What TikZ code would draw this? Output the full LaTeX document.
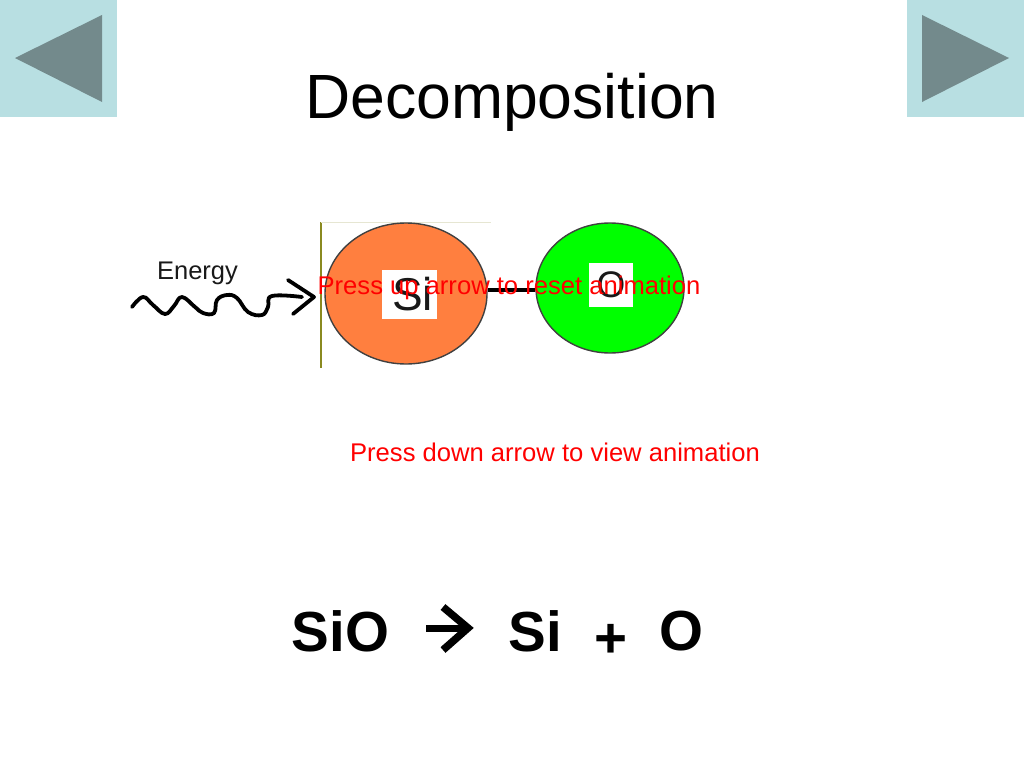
\documentclass[tikz,border=0pt]{standalone}
\usepackage{fontspec}
\setmainfont{Liberation Sans}
\usetikzlibrary{shapes.geometric}
\definecolor{panelblue}{HTML}{B8DFE2}
\definecolor{panelgrey}{HTML}{738A8C}
\definecolor{siorange}{HTML}{FF7F3F}
\definecolor{framegold}{HTML}{8A8A20}
\definecolor{framepale}{HTML}{E6E6D2}
\tikzset{
  atom/.style={draw=black!75,line width=1.4pt,ellipse,inner sep=0pt},
  atomlabel/.style={fill=white,inner sep=0pt,text=black!90},
  redtext/.style={text=red,font=\fontsize{25.6}{25.6}\selectfont},
  eqtext/.style={font=\bfseries\fontsize{56.5}{56.5}\selectfont},
  handline/.style={line width=3.8pt,line cap=round,line join=round}
}
\begin{document}
\begin{tikzpicture}[x=1pt,y=-1pt]
\tikzstyle{every node}+=[inner sep=0pt]
\useasboundingbox (0,0) rectangle (1024,768);
% corner panels
\fill [panelblue] (0,0) rectangle (117,117);
\fill [panelgrey] (102,15) -- (15,58) -- (102,102) -- cycle;
\fill [panelblue] (907,0) rectangle (1024,117);
\fill [panelgrey] (922,15) -- (1009,58) -- (922,102) -- cycle;
\node (title) at (512,102) {\fontsize{62.5}{62.5}\selectfont Decomposition};
% frame of the animation
\draw [framegold,line width=1.3pt] (321,222) -- (321,368);
\draw [framepale,line width=0.8pt] (321,222) -- (491,222);
% molecule
\coordinate (bondy) at (0,290);
\node [atom,fill=siorange,minimum width=162pt,minimum height=141pt] (si) at (406,293.5) {};
\node [atom,fill=green,minimum width=148pt,minimum height=130pt] (oxy) at (610,288) {};
\draw [black,line width=3.5pt] (si.east |- bondy) -- (oxy.west |- bondy);
\node [atomlabel,minimum width=55pt,minimum height=49pt,font=\fontsize{46}{46}\selectfont] (silabel) at (409.5,294.5) {\hspace*{6pt}\raisebox{-4pt}{Si}};
\node [atomlabel,minimum width=44pt,minimum height=44pt,font=\fontsize{37}{37}\selectfont] (oxylabel) at (611,285) {O};
% energy
\node [text=black!90,font=\fontsize{25.5}{25.5}\selectfont] (energy) at (197.5,273) {Energy};
\draw [handline] plot [smooth,tension=0.7] coordinates {(132,307) (143,297) (153,305) (165,314) (174,306) (182,297) (195,307) (203,313) (214,313) (217,300) (227,295) (237,298) (248,312) (262,315) (268,307) (272,296) (302,297)};
\draw [handline] (288,280) -- (314,297) -- (293,314);
% texts
\node [redtext] (resettext) at (509,288) {Press up arrow to reset animation};
\node [redtext] (viewtext) at (555,452) {Press down arrow to view animation};
% equation
\node [eqtext] (eqsio) at (340.5,631) {SiO};
\node [eqtext] (eqsi) at (535,631) {Si};
\node [eqtext] (eqplus) at (611,641) {+};
\node [eqtext] (eqo) at (681.5,631) {O};
\coordinate (arrowtip) at (468,628);
\draw [line width=7pt] (426,628) -- (arrowtip);
\draw [line width=7.5pt] (443,607) -- (arrowtip) -- (443,650);
\end{tikzpicture}
\end{document}
